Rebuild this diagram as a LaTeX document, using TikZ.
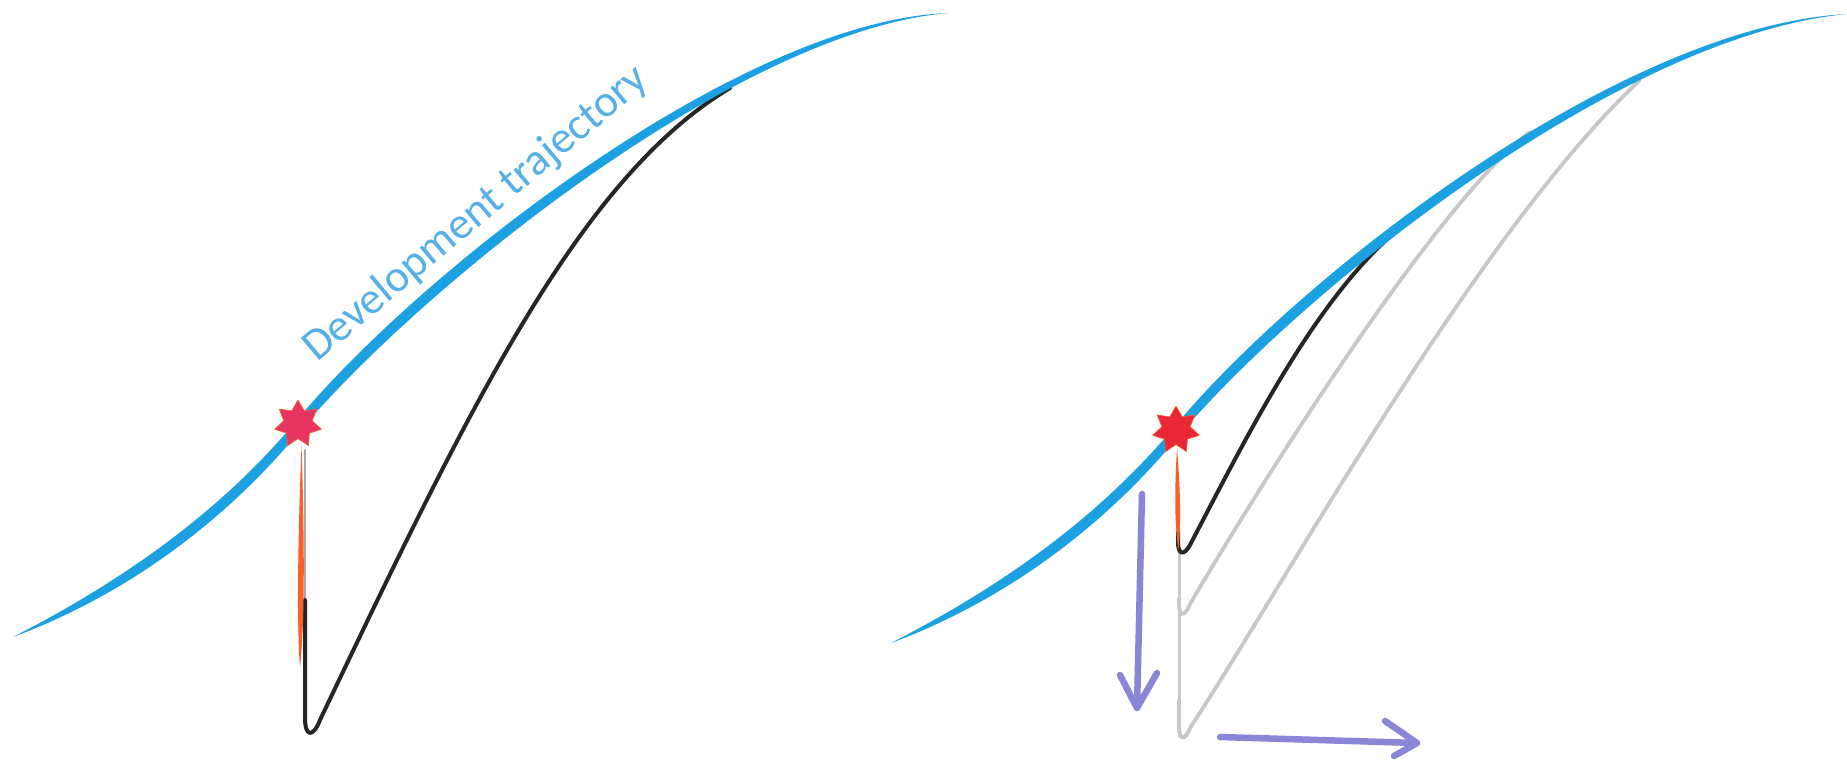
\documentclass[tikz,border=0pt]{standalone}
\usepackage{fontspec}
\newfontfamily\carlito{Carlito}
\usetikzlibrary{shapes.geometric}
\definecolor{devblue}{RGB}{27,161,226}
\definecolor{txtblue}{RGB}{86,176,232}
\definecolor{starA}{RGB}{232,52,96}
\definecolor{starB}{RGB}{232,40,56}
\definecolor{orng}{RGB}{250,95,40}
\definecolor{purp}{RGB}{138,133,214}
\definecolor{lgrey}{RGB}{200,200,200}
% brush-shaped development trajectory; #1 = end point
\newcommand\devbrush[1]{%
 \fill[devblue] (13,637) .. controls (117.2,583.6) and (215.8,516.5) .. (294.5,423.1)
   .. controls (415.0,275.8) and (739.7,20.0) .. (#1)
   .. controls (740.3,30.0) and (425.0,284.2) .. (301.5,428.9)
   .. controls (224.2,523.5) and (122.8,596.4) .. (13,637) -- cycle;}
\tikzset{
  blk/.style={draw=black!85, line width=4pt},
  gry/.style={draw=lgrey, line width=3.8pt},
  purarrow/.style={draw=purp, line width=6.5pt},
  starmark/.style={star, star points=7, star point ratio=1.65, minimum size=48pt, inner sep=0pt, draw=orng, line width=0.6pt},
  orangefill/.style={fill=orng}
}
\begin{document}
\begin{tikzpicture}[x=1pt,y=-1pt,line cap=round,line join=round]
\useasboundingbox (0,0) rectangle (1847,765);
\fill[white] (0,0) rectangle (1847,765);

% ---------- left panel ----------
\draw[gray!70, line width=1.6pt] (305,450) -- (305,640);
\draw[blk] (305,600) -- (305,718) .. controls (305,737) and (313,738) .. (320,720)
  .. controls (470,405) and (580,178) .. (730,88);
\fill[orangefill] (301.5,445) .. controls (304.5,540) and (305,620) .. (300,668) .. controls (296.5,620) and (298,540) .. (301.5,445) -- cycle;
\devbrush{949,13}
\node[starmark, fill=starA] (s1) at (298,424) {};
\node[rotate=40, anchor=base west, text=txtblue, inner sep=0pt, font=\carlito\fontsize{45}{54}\selectfont] (lbl) at (317,363) {Development trajectory};

% ---------- right panel ----------
\draw[lgrey, line width=3pt] (1179,552) -- (1179,736);
\draw[gry] (1179,598) -- (1179,604) .. controls (1179,617) and (1185,617) .. (1190,604)
  .. controls (1270,468) and (1440,200) .. (1530,132);
\draw[gry] (1179,700) -- (1179,726) .. controls (1179,741) and (1185,741) .. (1190,728)
  .. controls (1290,575) and (1480,230) .. (1640,80);
\draw[blk] (1178,532) -- (1178,542) .. controls (1178,555) and (1184,556) .. (1190,545)
  .. controls (1250,430) and (1320,290) .. (1405,224);
\fill[orangefill] (1177,448) .. controls (1180.5,490) and (1181,525) .. (1178.5,550) .. controls (1174.5,525) and (1174.5,490) .. (1177,448) -- cycle;
\begin{scope}[shift={(878,6)}]
\devbrush{969,8}
\end{scope}
\node[starmark, fill=starB] (s2) at (1176,430) {};

% arrows
\coordinate (vtop) at (1142,494);
\coordinate (vtip) at (1137,708);
\coordinate (vwl) at (1120,675);
\coordinate (vwr) at (1157,673);
\draw[purarrow] (vtop) -- (vtip) (vwl) -- (vtip) -- (vwr);
\coordinate (hstart) at (1220,737);
\coordinate (htip) at (1417,743);
\coordinate (hwu) at (1385,721);
\coordinate (hwd) at (1394,756);
\draw[purarrow] (hstart) -- (htip) (hwu) -- (htip) -- (hwd);
\end{tikzpicture}
\end{document}
